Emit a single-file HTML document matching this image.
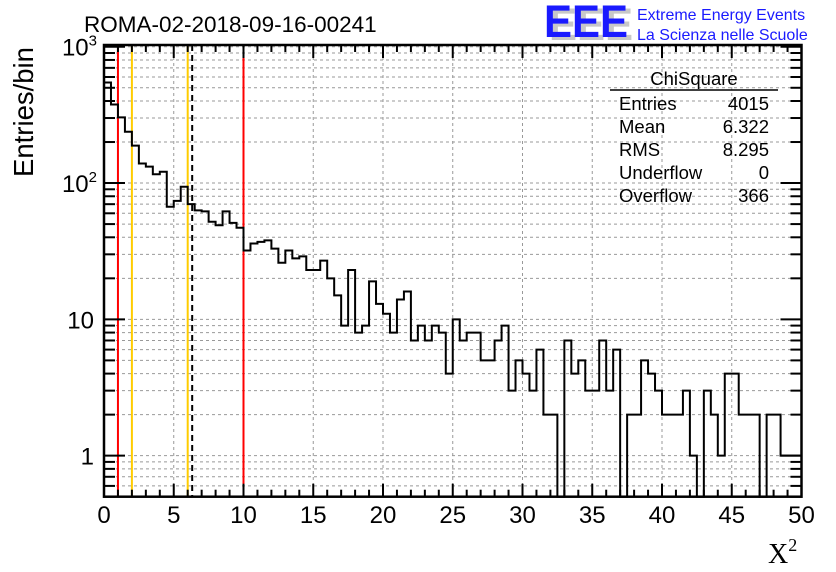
<!DOCTYPE html>
<html><head><meta charset="utf-8"><style>
body{margin:0;background:#fff}
svg{display:block;font-family:"Liberation Sans",sans-serif}
</style></head><body>
<svg id="c" width="836" height="572" viewBox="0 0 836 572">
<rect width="836" height="572" fill="#fff"/>
<g id="grid"></g>
<g id="vlines"></g>
<g id="hist"></g>
<g id="axes"></g>
<text x="84" y="32" font-size="22.5">ROMA-02-2018-09-16-00241</text>
<g>
<text x="549" y="40" font-size="45" font-weight="bold" fill="#c8c8c8" textLength="84" lengthAdjust="spacingAndGlyphs">EEE</text>
<text x="544" y="37" font-size="45" font-weight="bold" fill="#1a1aff" textLength="84" lengthAdjust="spacingAndGlyphs">EEE</text>
<text x="637" y="20" font-size="16" fill="#1a1aff">Extreme Energy Events</text>
<text x="637" y="40" font-size="16" fill="#1a1aff">La Scienza nelle Scuole</text>
</g>
<g font-size="18.5">
<text x="694" y="85" text-anchor="middle">ChiSquare</text>
<line x1="610" y1="90" x2="778" y2="90" stroke="#000" stroke-width="1.5"/>
<text x="619" y="110">Entries</text><text x="769" y="110" text-anchor="end">4015</text>
<text x="619" y="133">Mean</text><text x="769" y="133" text-anchor="end">6.322</text>
<text x="619" y="156">RMS</text><text x="769" y="156" text-anchor="end">8.295</text>
<text x="619" y="179">Underflow</text><text x="769" y="179" text-anchor="end">0</text>
<text x="619" y="202">Overflow</text><text x="769" y="202" text-anchor="end">366</text>
</g>
<text transform="translate(33,112) rotate(-90)" font-size="27.5" text-anchor="middle">Entries/bin</text>
<text x="768" y="563" font-size="28" font-family="Liberation Serif,serif">X<tspan font-size="18" dy="-12">2</tspan></text>
</svg>
<script>
const counts=[547,377,303,238,188,139,132,116,121,67,74,94,70,63,62,52,49,62,51,47,
32,36,37,38,33,26,32,28,29,23,23,27,20,15,9,23,8,9,19,13,
11,8,14,16,7,9,7,9,8,4,10,7,8,8,5,5,7,9,3,5,
4,3,6,2,2,0,7,4,5,3,3,7,3,6,0,2,2,5,4,3,
2,2,2,3,1,0,3,2,1,4,4,2,2,2,0,2,2,1,1,1];
const binWidth=0.5;
const xTicks=[0,5,10,15,20,25,30,35,40,45,50];
const redLines=[1,10];
const yellowLines=[2,6];
const meanLine=[6.322];
const NS="http://www.w3.org/2000/svg";
const X0=104,X1=801.5,Y0=496.7,Y1=45,XMIN=0,XMAX=50,YMIN=0.5,YMAX=1030;
const sx=v=>X0+(v-XMIN)/(XMAX-XMIN)*(X1-X0);
const sy=v=>Y0-(Math.log10(v)-Math.log10(YMIN))/(Math.log10(YMAX)-Math.log10(YMIN))*(Y0-Y1);
function mk(tag,attrs,parent){const e=document.createElementNS(NS,tag);for(const k in attrs)e.setAttribute(k,attrs[k]);parent.appendChild(e);return e;}
const grid=document.getElementById('grid'),axes=document.getElementById('axes'),hist=document.getElementById('hist'),vl=document.getElementById('vlines');
for(const t of xTicks){if(t===XMIN||t===XMAX)continue;
 const g=mk('line',{x1:sx(t),x2:sx(t),y1:Y1,y2:Y0,stroke:'#999','stroke-dasharray':'3,3','stroke-width':1},grid);
 
 }
const yMinor=[];
for(let d=-1;d<=3;d++)for(let m=1;m<=9;m++){const v=m*Math.pow(10,d);if(v>=YMIN&&v<=YMAX)yMinor.push(v);}
for(const v of yMinor){if(v===YMIN)continue;
 const g=mk('line',{x1:X0,x2:X1,y1:sy(v),y2:sy(v),stroke:'#999','stroke-dasharray':'3,3','stroke-width':1},grid);
 
 }
function vline(v,col,dash,name){const l=mk('line',{x1:sx(v),x2:sx(v),y1:Y1,y2:Y0,stroke:col,'stroke-width':2},vl);if(dash)l.setAttribute('stroke-dasharray',dash);
 
 }
redLines.forEach(v=>vline(v,'#ff0000',null,'red-cut-line'));
yellowLines.forEach(v=>vline(v,'#ffcc00',null,'yellow-cut-line'));
meanLine.forEach(v=>vline(v,'#000',"6,4",'mean-line'));
let d='';
counts.forEach((c,i)=>{const xa=sx(i*binWidth),xb=sx((i+1)*binWidth);const y=c>0?sy(c):Y0;
 d+=(i===0?'M':'L')+xa+','+y+'L'+xb+','+y;});
const p=mk('path',{d:d,fill:'none',stroke:'#000','stroke-width':2},hist);


const fr=mk('rect',{x:X0,y:Y1,width:X1-X0,height:Y0-Y1,fill:'none',stroke:'#000','stroke-width':2.5},axes);


for(let v=XMIN;v<=XMAX;v+=1){const maj=v%5===0;const L=maj?13:7;
 mk('line',{x1:sx(v),x2:sx(v),y1:Y0,y2:Y0-L,stroke:'#000','stroke-width':2},axes);
 mk('line',{x1:sx(v),x2:sx(v),y1:Y1,y2:Y1+L,stroke:'#000','stroke-width':2},axes);}
xTicks.forEach(t=>{const tx=mk('text',{x:sx(t),y:523,'font-size':24,'text-anchor':'middle'},axes);tx.textContent=String(t);
 
 });
for(const v of yMinor){const maj=Math.abs(Math.log10(v)-Math.round(Math.log10(v)))<1e-9;const L=maj?21:11;
 mk('line',{x1:X0,x2:X0+L,y1:sy(v),y2:sy(v),stroke:'#000','stroke-width':2},axes);
 mk('line',{x1:X1,x2:X1-L,y1:sy(v),y2:sy(v),stroke:'#000','stroke-width':2},axes);}
const yLabels=[{v:1,t:'1'},{v:10,t:'10'},{v:100,t:'10',e:'2'},{v:1000,t:'10',e:'3'}];
yLabels.forEach(o=>{const tx=mk('text',{x:94,y:sy(o.v)+9,'font-size':24,'text-anchor':'end'},axes);
 tx.textContent=o.t;
 if(o.e){const s=mk('tspan',{'font-size':15,dy:-10},tx);s.textContent=o.e;tx.setAttribute('x',97);}
 
 });
</script>
</body></html>
